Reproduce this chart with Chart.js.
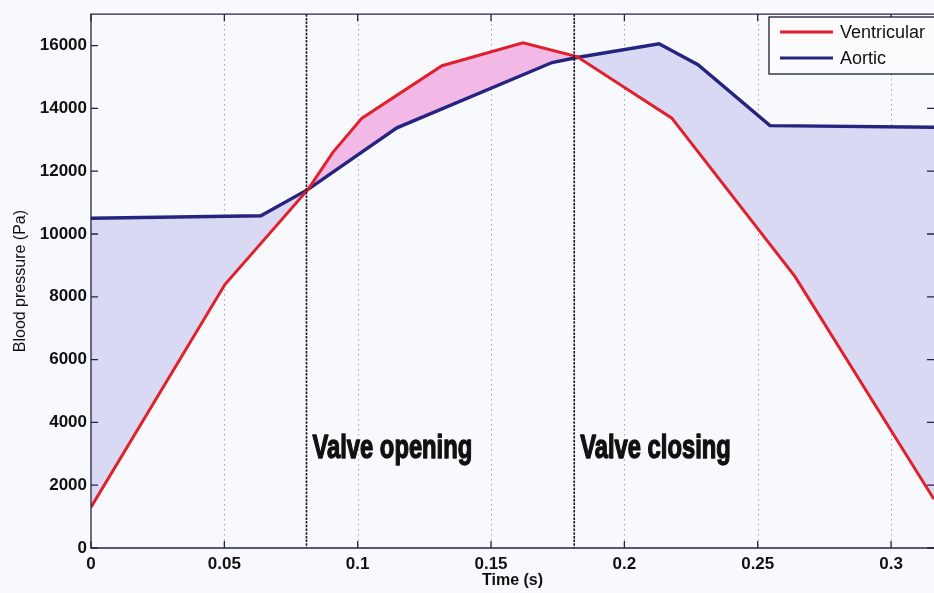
<!DOCTYPE html>
<html>
<head>
<meta charset="utf-8">
<title>Blood pressure</title>
<script src="https://cdn.jsdelivr.net/npm/chart.js@4.4.1/dist/chart.umd.min.js"></script>
<style>
  html, body { margin: 0; padding: 0; background: #f8f9fc; }
  #wrap { width: 934px; height: 593px; position: relative; }
</style>
</head>
<body>
<div id="wrap"><canvas id="pressureChart" width="934" height="593"></canvas></div>
<script>
/* ===== DATA: time in s, pressure in Pa ===== */
const ventTime  = [0, 0.0502, 0.0814, 0.0907, 0.1016, 0.1316, 0.1620, 0.1822, 0.2178, 0.2640, 0.3161];
const ventPress = [1300, 8390, 11420, 12600, 13690, 15360, 16090, 15650, 13690, 8640, 1550];

const aortTime  = [0, 0.0637, 0.0814, 0.1147, 0.1729, 0.1822, 0.2130, 0.2276, 0.2546, 0.3161];
const aortPress = [10500, 10580, 11420, 13380, 15460, 15620, 16060, 15390, 13450, 13400];

const valveTimes  = [0.0808, 0.1812];
const valveLabels = ['Valve opening', 'Valve closing'];

const xTicks = [0, 0.05, 0.1, 0.15, 0.2, 0.25, 0.3];
const yTicks = [0, 2000, 4000, 6000, 8000, 10000, 12000, 14000, 16000];

const RED   = '#e0212b';
const BLUE  = '#252580';
const LILAC = '#d9d9f4';
const PINK  = '#f2b8e6';
const INK   = '#15152a';

const toPoints = (xs, ys) => xs.map((x, i) => ({ x, y: ys[i] }));

/* ===== FRAME, GRID, VALVE MARKERS, LEGEND ===== */
const framePlugin = {
  id: 'frame',
  beforeDraw(chart) {
    const { ctx, chartArea: a, scales: { x } } = chart;
    ctx.save();
    ctx.fillStyle = '#f8f9fc';
    ctx.fillRect(0, 0, chart.width, chart.height);
    // dotted vertical grid
    ctx.strokeStyle = '#8c8ca4';
    ctx.lineWidth = 1;
    ctx.setLineDash([1.2, 3.8]);
    xTicks.slice(1).forEach(v => {
      const px = Math.round(x.getPixelForValue(v)) + 0.5;
      ctx.beginPath(); ctx.moveTo(px, a.top); ctx.lineTo(px, a.bottom); ctx.stroke();
    });
    ctx.restore();
  },
  afterDatasetsDraw(chart) {
    const { ctx, chartArea: a, scales: { x, y } } = chart;
    ctx.save();

    // valve lines + labels
    ctx.strokeStyle = INK;
    ctx.lineWidth = 1.6;
    ctx.setLineDash([2.5, 1.2]);
    valveTimes.forEach((t, i) => {
      const px = x.getPixelForValue(t);
      ctx.beginPath(); ctx.moveTo(px, a.top); ctx.lineTo(px, a.bottom); ctx.stroke();
      ctx.save();
      ctx.setLineDash([]);
      ctx.translate(px + 6, y.getPixelForValue(2880));
      ctx.scale(0.72, 1);
      ctx.fillStyle = '#111';
      ctx.strokeStyle = '#111';
      ctx.lineWidth = 1.4;
      ctx.lineJoin = 'round';
      ctx.font = 'bold 33px "Liberation Sans", Arial, sans-serif';
      ctx.textBaseline = 'alphabetic';
      ctx.fillText(valveLabels[i], 0, 0);
      ctx.strokeText(valveLabels[i], 0, 0);
      ctx.restore();
    });
    ctx.setLineDash([]);

    // axes box (right side runs off the canvas)
    ctx.strokeStyle = '#22224a';
    ctx.lineWidth = 1.3;
    ctx.beginPath();
    ctx.moveTo(a.right + 2, a.top); ctx.lineTo(a.left, a.top);
    ctx.lineTo(a.left, a.bottom); ctx.lineTo(a.right + 2, a.bottom);
    ctx.stroke();

    // inward ticks
    const tl = 7;
    ctx.beginPath();
    xTicks.forEach(v => {
      const px = x.getPixelForValue(v);
      ctx.moveTo(px, a.bottom); ctx.lineTo(px, a.bottom - tl);
      ctx.moveTo(px, a.top); ctx.lineTo(px, a.top + tl);
    });
    yTicks.forEach(v => {
      const py = y.getPixelForValue(v);
      ctx.moveTo(a.left, py); ctx.lineTo(a.left + tl, py);
      ctx.moveTo(a.right, py); ctx.lineTo(a.right - tl, py);
    });
    ctx.stroke();

    // legend box, top right
    const lx = 769, ly = 17, lh = 57;
    ctx.fillStyle = '#fbfbfd';
    ctx.fillRect(lx, ly, chart.width - lx + 5, lh);
    ctx.strokeStyle = '#1a1a30';
    ctx.lineWidth = 1.3;
    ctx.strokeRect(lx, ly, chart.width - lx + 5, lh);
    ctx.font = '18px "Liberation Sans", Arial, sans-serif';
    ctx.textBaseline = 'middle';
    chart.data.datasets.forEach((ds, i) => {
      const ry = ly + 15 + i * 26;
      ctx.strokeStyle = ds.borderColor;
      ctx.lineWidth = 3;
      ctx.beginPath(); ctx.moveTo(lx + 11, ry); ctx.lineTo(lx + 64, ry); ctx.stroke();
      ctx.fillStyle = '#111';
      ctx.fillText(ds.label, lx + 71, ry + 1);
    });
    ctx.restore();
  }
};

/* ===== CHART ===== */
new Chart(document.getElementById('pressureChart'), {
  type: 'line',
  data: {
    datasets: [
      {
        label: 'Ventricular',
        data: toPoints(ventTime, ventPress),
        borderColor: RED,
        borderWidth: 3,
        pointRadius: 0,
        tension: 0,
        fill: { target: 1, above: PINK, below: LILAC }
      },
      {
        label: 'Aortic',
        data: toPoints(aortTime, aortPress),
        borderColor: BLUE,
        borderWidth: 3.4,
        pointRadius: 0,
        tension: 0,
        fill: false
      }
    ]
  },
  options: {
    responsive: false,
    animation: false,
    events: [],
    layout: { padding: { top: 11, left: 0, right: 0, bottom: 0 } },
    plugins: {
      legend: { display: false },
      tooltip: { enabled: false },
      filler: { drawTime: 'beforeDatasetsDraw' }
    },
    scales: {
      x: {
        type: 'linear',
        min: 0, max: 0.3161,
        afterBuildTicks: s => { s.ticks = xTicks.map(v => ({ value: v })); },
        afterFit: s => { s.height = 45; },
        grid: { display: false, drawTicks: false },
        border: { display: false },
        ticks: {
          padding: 6, color: '#111', maxRotation: 0, autoSkip: false,
          font: { size: 17, weight: 'bold', family: '"Liberation Sans", Arial, sans-serif' },
          callback: v => String(v)
        },
        title: {
          display: true, text: 'Time (s)', color: '#111',
          font: { size: 16, weight: 'bold', family: '"Liberation Sans", Arial, sans-serif' },
          padding: { top: 0, bottom: 3 }
        }
      },
      y: {
        min: 0, max: 17000,
        afterBuildTicks: s => { s.ticks = yTicks.map(v => ({ value: v })); },
        afterFit: s => { s.width = 91; },
        grid: { display: false, drawTicks: false },
        border: { display: false },
        ticks: {
          padding: 4, color: '#111', autoSkip: false,
          font: { size: 17, weight: 'bold', family: '"Liberation Sans", Arial, sans-serif' },
          callback: v => String(v)
        },
        title: {
          display: true, text: 'Blood pressure (Pa)', color: '#111',
          font: { size: 16, family: '"Liberation Sans", Arial, sans-serif' },
          padding: { top: 11, bottom: 0 }
        }
      }
    }
  },
  plugins: [framePlugin]
});
</script>
</body>
</html>
